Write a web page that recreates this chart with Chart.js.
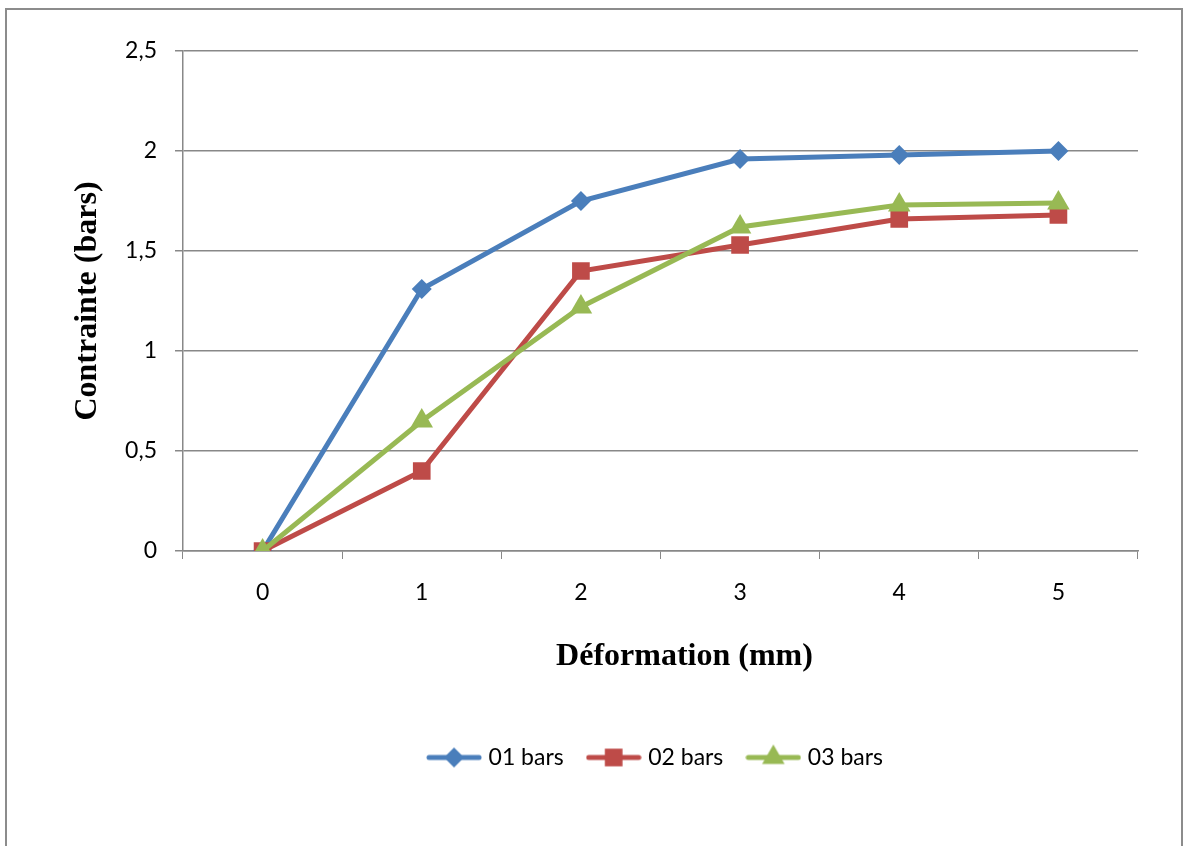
<!DOCTYPE html>
<html>
<head>
<meta charset="utf-8">
<script src="https://cdn.jsdelivr.net/npm/chart.js@4"></script>
<style>
  body { margin: 0; background: #fff; }
  canvas { display: block; }
</style>
</head>
<body>
<canvas id="myChart" width="1184" height="846"></canvas>
<script>
let labels = ['0', '1', '2', '3', '4', '5'];
let seriesNames = ['01 bars', '02 bars', '03 bars'];
let bars01 = [0, 1.31, 1.75, 1.96, 1.98, 2.0];
let bars02 = [0, 0.40, 1.40, 1.53, 1.66, 1.68];
let bars03 = [0, 0.65, 1.22, 1.62, 1.73, 1.74];
let colorHex = ['#4a7ebb', '#be4b48', '#98b954'];
let markers = ['rectRot', 'rect', 'triangle'];
let markerSize = [10, 12.5, 13];

// little line + marker pictures for the legend
function legendIcon(color, style, r) {
  let c = document.createElement('canvas');
  c.width = 56; c.height = 28;
  let g = c.getContext('2d');
  g.strokeStyle = color;
  g.fillStyle = color;
  g.lineWidth = 5;
  g.lineCap = 'round';
  g.beginPath(); g.moveTo(3, 14); g.lineTo(53, 14); g.stroke();
  Chart.helpers.drawPoint(g, {pointStyle: style, radius: r, borderWidth: 0}, 28, 14);
  return c;
}

let frame = {
  id: 'frame',
  beforeDraw(chart) {
    let g = chart.ctx;
    g.save();
    g.fillStyle = '#fff';
    g.fillRect(0, 0, chart.width, chart.height);
    g.strokeStyle = '#8c8c8c';
    g.lineWidth = 2;
    g.strokeRect(6, 9, 1176, 900);
    g.restore();
  },
  afterLayout(chart) {
    // the legend in the original sits right of centre
    chart.legend.left += 88;
    chart.legend.right += 88;
  }
};

let allData = [bars01, bars02, bars03];
let datasets = allData.map((d, i) => ({
  label: seriesNames[i],
  data: d,
  borderColor: colorHex[i],
  backgroundColor: colorHex[i],
  borderWidth: 5,
  pointStyle: markers[i],
  pointRadius: markerSize[i],
  pointHoverRadius: markerSize[i],
  pointBorderWidth: 0,
  tension: 0,
  order: 3 - i
}));

let ctx = document.getElementById('myChart').getContext('2d');
let myChart = new Chart(ctx, {
  type: 'line',
  data: { labels: labels, datasets: datasets },
  plugins: [frame],
  options: {
    responsive: false,
    animation: false,
    devicePixelRatio: 1,
    layout: { padding: { left: 0, right: 46, top: 51, bottom: 67 } },
    plugins: {
      tooltip: { enabled: false },
      legend: {
        position: 'bottom',
        labels: {
          usePointStyle: true,
          pointStyleWidth: 46,
          padding: 27,
          color: '#000',
          font: { family: 'Lato', size: 23 },
          generateLabels: (chart) => chart.data.datasets.map((ds, i) => ({
            text: ds.label,
            fillStyle: ds.borderColor,
            strokeStyle: ds.borderColor,
            lineWidth: 0,
            pointStyle: legendIcon(colorHex[i], markers[i], markerSize[i]),
            datasetIndex: i,
            fontColor: '#000'
          }))
        }
      }
    },
    scales: {
      x: {
        type: 'category',
        offset: true,
        afterFit: (s) => { s.height = 168; },
        grid: {
          offset: true,
          drawOnChartArea: false,
          drawTicks: true,
          tickLength: 8,
          color: '#888'
        },
        border: { color: '#888', width: 1.5 },
        ticks: { color: '#000', padding: 20, font: { family: 'Lato', size: 23 } },
        title: {
          display: true,
          text: '\u2003\u2002Déformation (mm)',
          color: '#000',
          font: { family: 'Liberation Serif', size: 32, weight: 'bold' },
          padding: { top: 0, bottom: 43 }
        }
      },
      y: {
        min: 0,
        max: 2.5,
        afterFit: (s) => { s.width = 183; },
        grid: { color: '#888', lineWidth: 1.5, tickLength: 8 },
        border: { color: '#888', width: 1.5 },
        ticks: {
          stepSize: 0.5,
          color: '#000',
          padding: 18,
          font: { family: 'Lato', size: 23 },
          callback: (v) => String(v).replace('.', ',')
        },
        title: {
          display: true,
          text: 'Contrainte (bars)',
          color: '#000',
          font: { family: 'Liberation Serif', size: 32, weight: 'bold' },
          padding: { top: 69, bottom: 0 }
        }
      }
    }
  }
});
</script>
</body>
</html>
